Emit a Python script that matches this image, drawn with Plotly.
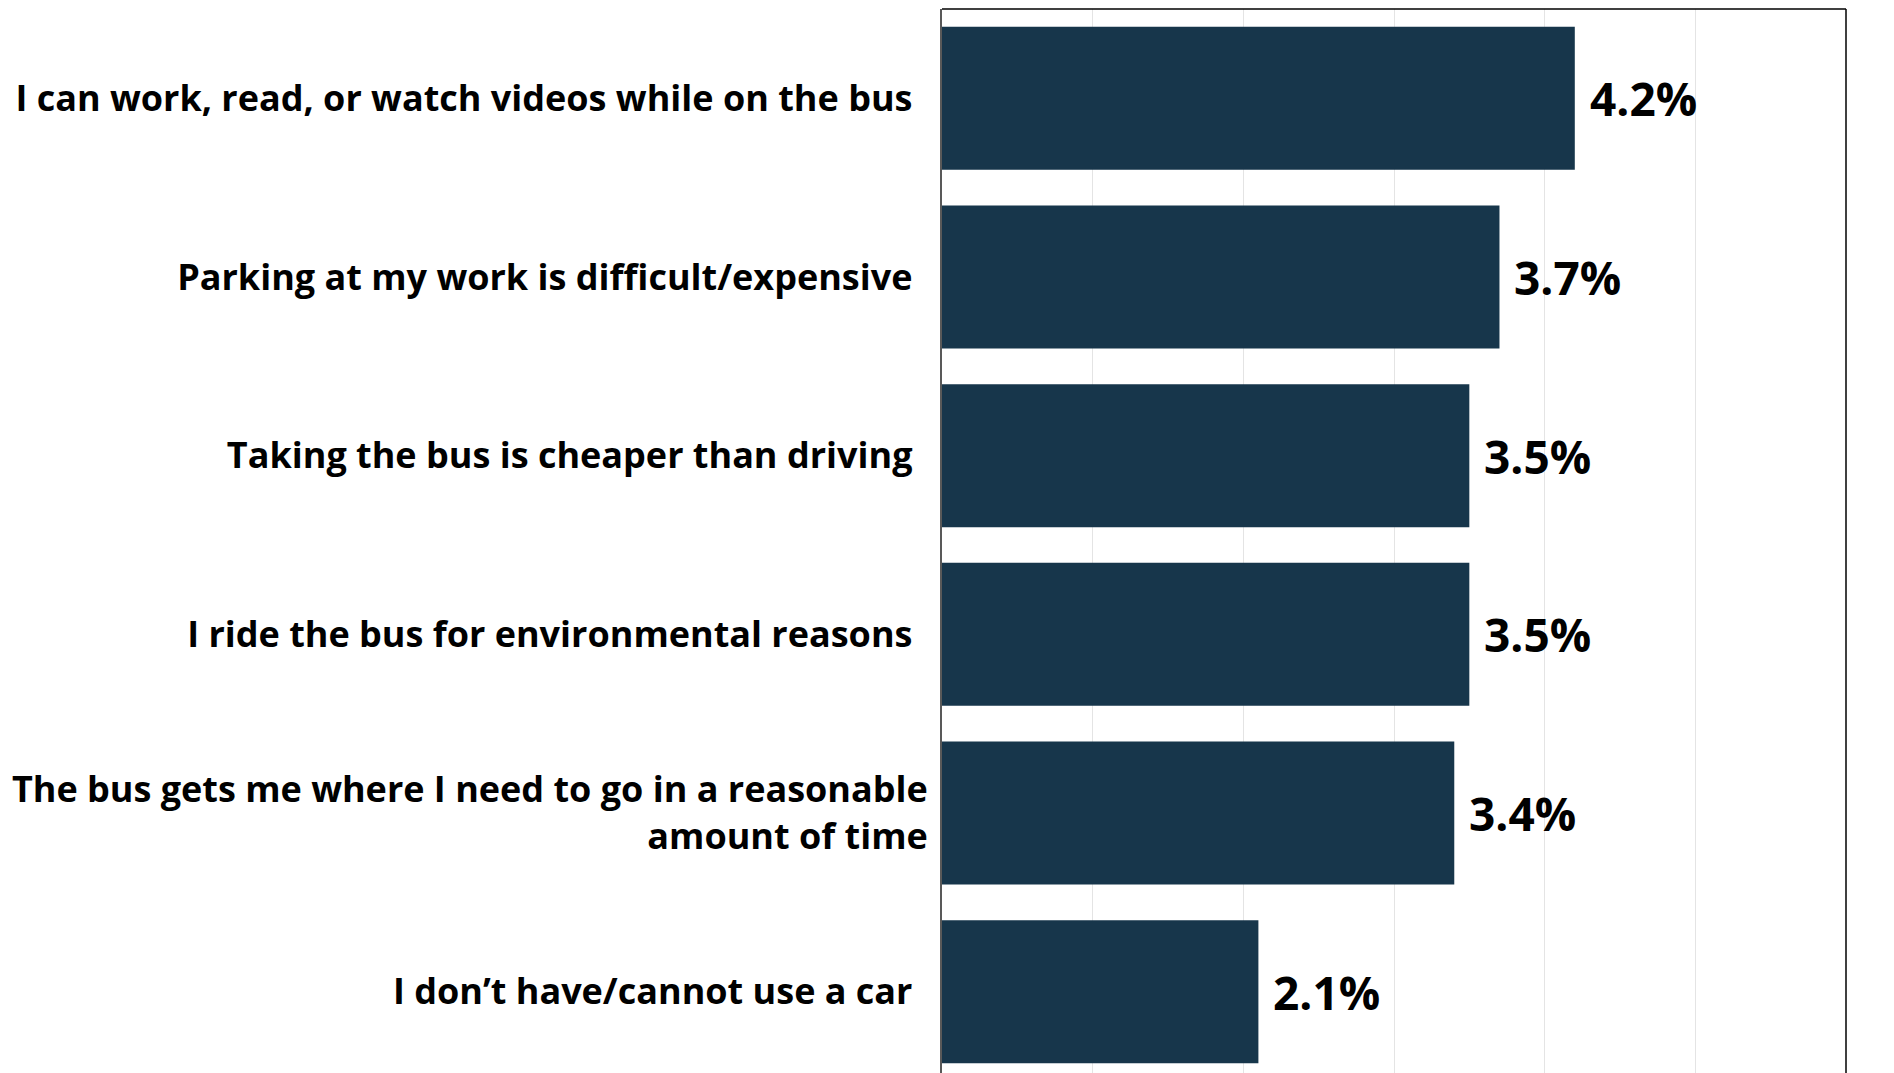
import plotly.graph_objects as go

# reasons for riding the bus (share of respondents, %)
reasons = [
    "I can work, read, or watch videos while on the bus\u00a0\u2009",
    "Parking at my work is difficult/expensive\u00a0\u2009",
    "Taking the bus is cheaper than driving\u00a0\u2009",
    "I ride the bus for environmental reasons\u00a0\u2009",
    "The bus gets me where I need to go in a reasonable<br>amount of time",
    "I don\u2019t have/cannot use a car\u00a0\u2009",
]
shares = [4.2, 3.7, 3.5, 3.5, 3.4, 2.1]
share_labels = ["4.2%", "3.7%", "3.5%", "3.5%", "3.4%", "2.1%"]

bar_color = "#17364B"
font_name = "Open Sans"

fig = go.Figure()
fig.add_trace(go.Bar(
    x=shares,
    y=reasons,
    orientation="h",
    marker=dict(color=bar_color, line=dict(width=0)),
    width=0.8,
    hoverinfo="skip",
))

# value labels just right of each bar
for r, v, lab in zip(reasons, shares, share_labels):
    fig.add_annotation(
        x=v, y=r, text=lab, showarrow=False,
        xanchor="left", yanchor="middle", xshift=13,
        font=dict(family=font_name, size=46, color="#000000", weight="bold"),
    )

# frame: top and right border
fig.add_shape(type="line", xref="paper", yref="paper", x0=0, x1=1, y0=1, y1=1,
              line=dict(color="#000000", width=1.5))
fig.add_shape(type="line", xref="paper", yref="paper", x0=1, x1=1, y0=0, y1=1,
              line=dict(color="#000000", width=1.5))

fig.update_layout(
    width=1894,
    height=1073,
    margin=dict(l=934, r=56, t=1, b=0),
    paper_bgcolor="white",
    plot_bgcolor="white",
    showlegend=False,
    bargap=0.2,
    xaxis=dict(
        range=[0, 6], dtick=1, showticklabels=False,
        showgrid=True, gridcolor="#e4e4e4", gridwidth=1,
        zeroline=False, showline=False,
    ),
    yaxis=dict(
        range=[5.5, -0.5],
        ticks="", ticklabelstandoff=5,
        showgrid=False, zeroline=False,
        showline=True, linecolor="#595959", linewidth=2,
        tickfont=dict(family=font_name, size=36, color="#000000", weight="bold"),
    ),
)

fig.write_html("out.html")
